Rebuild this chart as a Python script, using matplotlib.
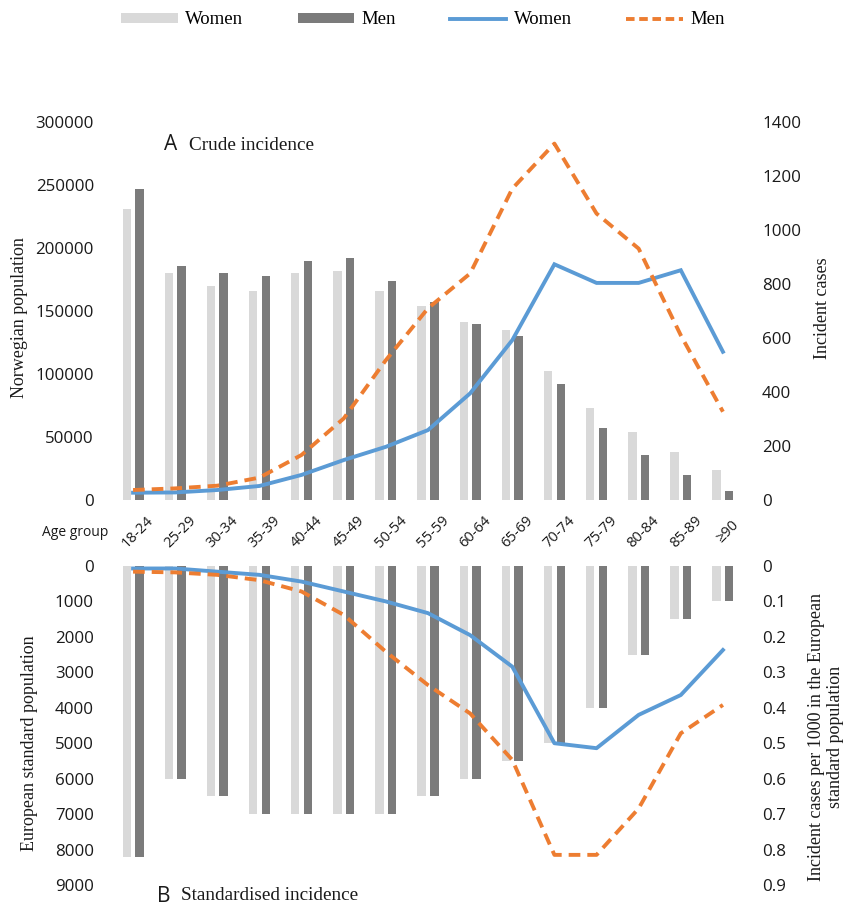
import numpy as np
import matplotlib.pyplot as plt
from matplotlib.patches import Patch
from matplotlib.lines import Line2D

age_groups = ["18-24", "25-29", "30-34", "35-39", "40-44", "45-49", "50-54",
              "55-59", "60-64", "65-69", "70-74", "75-79", "80-84", "85-89", "≥90"]

# Panel A: Norwegian population (bars) and crude incident cases (lines)
nor_pop_women = [231000, 180000, 170000, 166000, 180000, 182000, 166000,
                 154000, 141000, 135000, 102000, 73000, 54000, 38000, 24000]
nor_pop_men = [247000, 186000, 180000, 178000, 190000, 192000, 174000,
               157000, 140000, 130000, 92000, 57000, 36000, 20000, 7000]
cases_women = [27, 28, 37, 52, 93, 148, 197, 259, 395, 592, 873, 804, 804, 851, 549]
cases_men = [37, 43, 53, 83, 167, 302, 518, 710, 839, 1153, 1320, 1061, 931, 610, 327]

# Panel B: European standard population (bars) and rates per 1000 (lines)
esp_women = [8200, 6000, 6500, 7000, 7000, 7000, 7000,
             6500, 6000, 5500, 5000, 4000, 2500, 1500, 1000]
esp_men = [8200, 6000, 6500, 7000, 7000, 7000, 7000,
           6500, 6000, 5500, 5000, 4000, 2500, 1500, 1000]
rate_women = [0.007, 0.007, 0.016, 0.025, 0.044, 0.072, 0.100,
              0.133, 0.195, 0.284, 0.500, 0.514, 0.420, 0.364, 0.237]
rate_men = [0.016, 0.018, 0.025, 0.040, 0.072, 0.138, 0.242,
            0.336, 0.416, 0.547, 0.815, 0.815, 0.684, 0.472, 0.392]

LIGHT = "#d9d9d9"
DARK = "#7b7b7b"
BLUE = "#5b9bd5"
ORANGE = "#ed7d31"
TXT = "#1a1a1a"
SANS = "Open Sans"
SERIF = "Liberation Serif"

W, H = 846, 910
fig = plt.figure(figsize=(W / 100, H / 100), dpi=100)


def px_box(x0, y0, x1, y1):
    return [x0 / W, 1 - y1 / H, (x1 - x0) / W, (y1 - y0) / H]


x = np.arange(len(age_groups))
bw = 0.2
off = 0.15

ax_top = fig.add_axes(px_box(112, 122, 744, 500))
ax_bot = fig.add_axes(px_box(112, 566, 744, 885))


def style(ax):
    for s in ax.spines.values():
        s.set_visible(False)
    ax.tick_params(length=0, pad=13, labelsize=12.2, colors=TXT)
    for lab in ax.get_yticklabels():
        lab.set_fontfamily(SANS)
    ax.set_xticks([])
    ax.set_xlim(-0.5, len(age_groups) - 0.5)


# --- panel A ---
ax_top.bar(x - off, nor_pop_women, bw, color=LIGHT)
ax_top.bar(x + off, nor_pop_men, bw, color=DARK)
ax_top.set_ylim(0, 300000)
ax_top.set_yticks(np.arange(0, 300001, 50000))
style(ax_top)

axr_top = ax_top.twinx()
axr_top.plot(x, cases_women, color=BLUE, lw=2.8, solid_joinstyle="miter")
axr_top.plot(x, cases_men, color=ORANGE, lw=2.8, dashes=(3, 1.8))
axr_top.set_ylim(0, 1400)
axr_top.set_yticks(np.arange(0, 1401, 200))
style(axr_top)

# --- panel B (drawn downwards) ---
ax_bot.bar(x - off, esp_women, bw, color=LIGHT)
ax_bot.bar(x + off, esp_men, bw, color=DARK)
ax_bot.set_ylim(9000, 0)
ax_bot.set_yticks(np.arange(0, 9001, 1000))
style(ax_bot)

axr_bot = ax_bot.twinx()
axr_bot.plot(x, rate_women, color=BLUE, lw=2.8)
axr_bot.plot(x, rate_men, color=ORANGE, lw=2.8, dashes=(3, 1.8))
axr_bot.set_ylim(0.9, 0)
axr_bot.set_yticks(np.arange(0, 0.91, 0.1))
axr_bot.set_yticklabels(["0"] + [f"{v:.1f}" for v in np.arange(0.1, 0.91, 0.1)])
style(axr_bot)

# age group labels between the panels
for i, g in enumerate(age_groups):
    ax_top.text(i + 0.12, -0.085, g, transform=ax_top.get_xaxis_transform(),
                rotation=45, ha="center", va="center", fontsize=10.5,
                family=SANS, color=TXT)
fig.text(75 / W, 1 - 533 / H, "Age group", ha="center", va="center",
         fontsize=10, family=SANS, color=TXT)

# axis titles
fig.text(19 / W, 1 - 318 / H, "Norwegian population", rotation=90,
         ha="center", va="center", fontsize=13, family=SERIF, color=TXT)
fig.text(822 / W, 1 - 308 / H, "Incident cases", rotation=90,
         ha="center", va="center", fontsize=13, family=SERIF, color=TXT)
fig.text(30 / W, 1 - 743 / H, "European standard population", rotation=90,
         ha="center", va="center", fontsize=13, family=SERIF, color=TXT)
fig.text(826 / W, 1 - 737 / H,
         "Incident cases per 1000 in the European\nstandard population",
         rotation=90, ha="center", va="center", fontsize=13, family=SERIF,
         color=TXT, linespacing=1.2, multialignment="center")

# panel titles
fig.text(164 / W, 1 - 145 / H, "A", ha="left", va="center", fontsize=15,
         family=SANS, color=TXT)
fig.text(189 / W, 1 - 145 / H, "Crude incidence", ha="left", va="center",
         fontsize=13.8, family=SERIF, color=TXT)
fig.text(157 / W, 1 - 896 / H, "B", ha="left", va="center", fontsize=15,
         family=SANS, color=TXT)
fig.text(181 / W, 1 - 896 / H, "Standardised incidence", ha="left",
         va="center", fontsize=13.8, family=SERIF, color=TXT)

handles = [
    Patch(facecolor=LIGHT, edgecolor="none"),
    Patch(facecolor=DARK, edgecolor="none"),
    Line2D([], [], color=BLUE, lw=2.8),
    Line2D([], [], color=ORANGE, lw=2.8, dashes=(2.2, 1.2)),
]
fig.legend(handles, ["Women", "Men", "Women", "Men"], loc="center",
           bbox_to_anchor=(0.5, 1 - 20 / H), ncol=4, frameon=False,
           handlelength=3.0, handleheight=0.5, handletextpad=0.4,
           columnspacing=2.9, prop={"family": SERIF, "size": 13.5})

fig.savefig("out.png", dpi=100, facecolor="white")
